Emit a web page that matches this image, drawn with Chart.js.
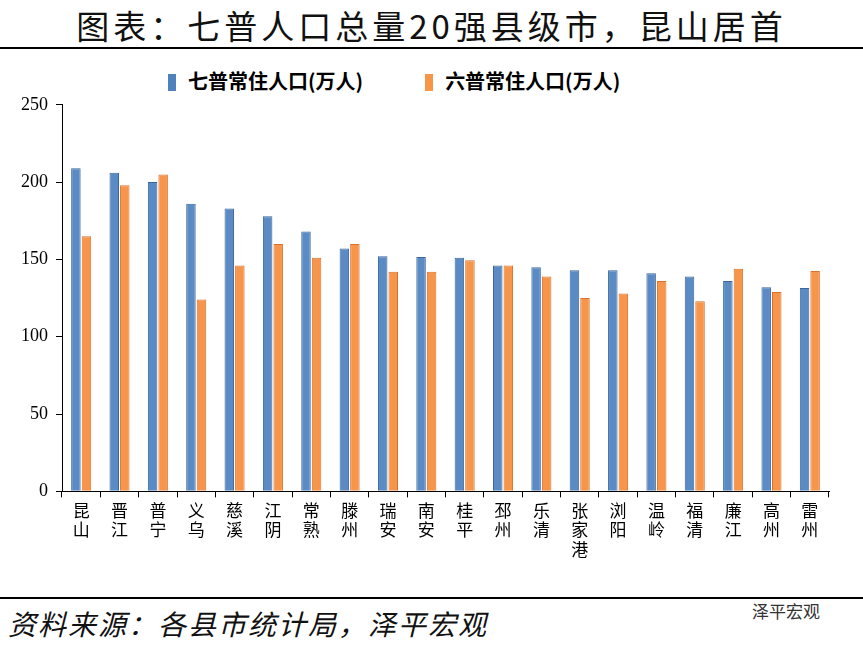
<!DOCTYPE html>
<html>
<head>
<meta charset="utf-8">
<script src="https://cdn.jsdelivr.net/npm/chart.js@4"></script>
<style>
  body { margin: 0; width: 863px; height: 649px; background: #fff; overflow: hidden; font-family: "Noto Sans CJK SC", sans-serif; }
  #title { position: absolute; left: 0; top: 1px; width: 863px; text-align: center; font-size: 33px; letter-spacing: 4px; color: #111; }
  #topline { position: absolute; left: 0; top: 47px; width: 863px; height: 2px; background: #000; }
  #legend { position: absolute; top: 66px; left: 168px; font-size: 20px; font-weight: bold; color: #000; }
  #legend span.sw { display: inline-block; width: 8px; height: 17px; vertical-align: -2px; margin-right: 12px; }
  #legend span.item { margin-right: 62px; }
  #wrap { position: absolute; left: 0; top: 86px; width: 863px; height: 476px; }
  #botline { position: absolute; left: 0; top: 597px; width: 863px; height: 2px; background: #000; }
  #source { position: absolute; left: 8px; top: 603px; font-size: 28px; font-style: italic; color: #111; letter-spacing: 2px; }
  #mark { position: absolute; left: 752px; top: 598px; font-size: 17px; color: #333; }
</style>
</head>
<body>
<div id="title">图表：七普人口总量20强县级市，昆山居首</div>
<div id="topline"></div>
<div id="legend"><span class="item"><span class="sw" style="background:#4f81bd"></span>七普常住人口(万人)</span><span><span class="sw" style="background:#f79646"></span>六普常住人口(万人)</span></div>
<div id="wrap"><canvas id="chart"></canvas></div>
<div id="botline"></div>
<div id="source">资料来源：各县市统计局，泽平宏观</div>
<div id="mark">泽平宏观</div>
<script>
const cities = ["昆山", "晋江", "普宁", "义乌", "慈溪", "江阴", "常熟", "滕州", "瑞安", "南安",
    "桂平", "邳州", "乐清", "张家港", "浏阳", "温岭", "福清", "廉江", "高州", "雷州"];
const census7 = [209, 206, 200, 186, 183, 178, 168, 157, 152, 151.5, 151, 146, 145, 143, 143, 141, 139, 136, 132, 131.5];
const census6 = [165, 198, 205, 124, 146, 160, 151, 160, 142, 142, 149.5, 146, 139, 125, 128, 136, 123, 144, 129, 142.5];
const yTicks = [0, 50, 100, 150, 200, 250];

new Chart(document.getElementById("chart"), {
    type: "bar",
    data: {
        labels: cities.map(c => c.split("")),
        datasets: [
            {
                label: "七普常住人口(万人)",
                data: census7,
                backgroundColor: "#5b8bc4",
                borderColor: "#3a6698",
                borderWidth: 1,
                categoryPercentage: 0.55,
                barPercentage: 0.9,
            },
            {
                label: "六普常住人口(万人)",
                data: census6,
                backgroundColor: "#f7964a",
                borderColor: "#d9702c",
                borderWidth: 1,
                categoryPercentage: 0.55,
                barPercentage: 0.9,
            },
        ],
    },
    options: {
        responsive: true,
        maintainAspectRatio: false,
        animation: false,
        layout: { padding: { left: 6, right: 34, top: 0, bottom: 0 } },
        plugins: {
            legend: { display: false },
            tooltip: { enabled: false },
        },
        scales: {
            x: {
                grid: { display: true, drawOnChartArea: false, offset: true, color: "#000", tickLength: 6 },
                border: { color: "#000", width: 1 },
                ticks: { color: "#000", maxRotation: 0, font: { size: 17, family: "'Noto Sans CJK SC'", lineHeight: 1.15 } },
            },
            y: {
                min: 0, max: 250,
                afterBuildTicks: (axis) => { axis.ticks = yTicks.map(v => ({ value: v })); },
                afterFit: (axis) => { axis.width = 56; },
                grid: { display: true, drawOnChartArea: false, color: "#000", tickLength: 6 },
                border: { color: "#000", width: 1 },
                ticks: { color: "#000", padding: 8, font: { size: 18, family: "'Liberation Serif', serif" } },
            },
        },
    },
});
</script>
</body>
</html>
